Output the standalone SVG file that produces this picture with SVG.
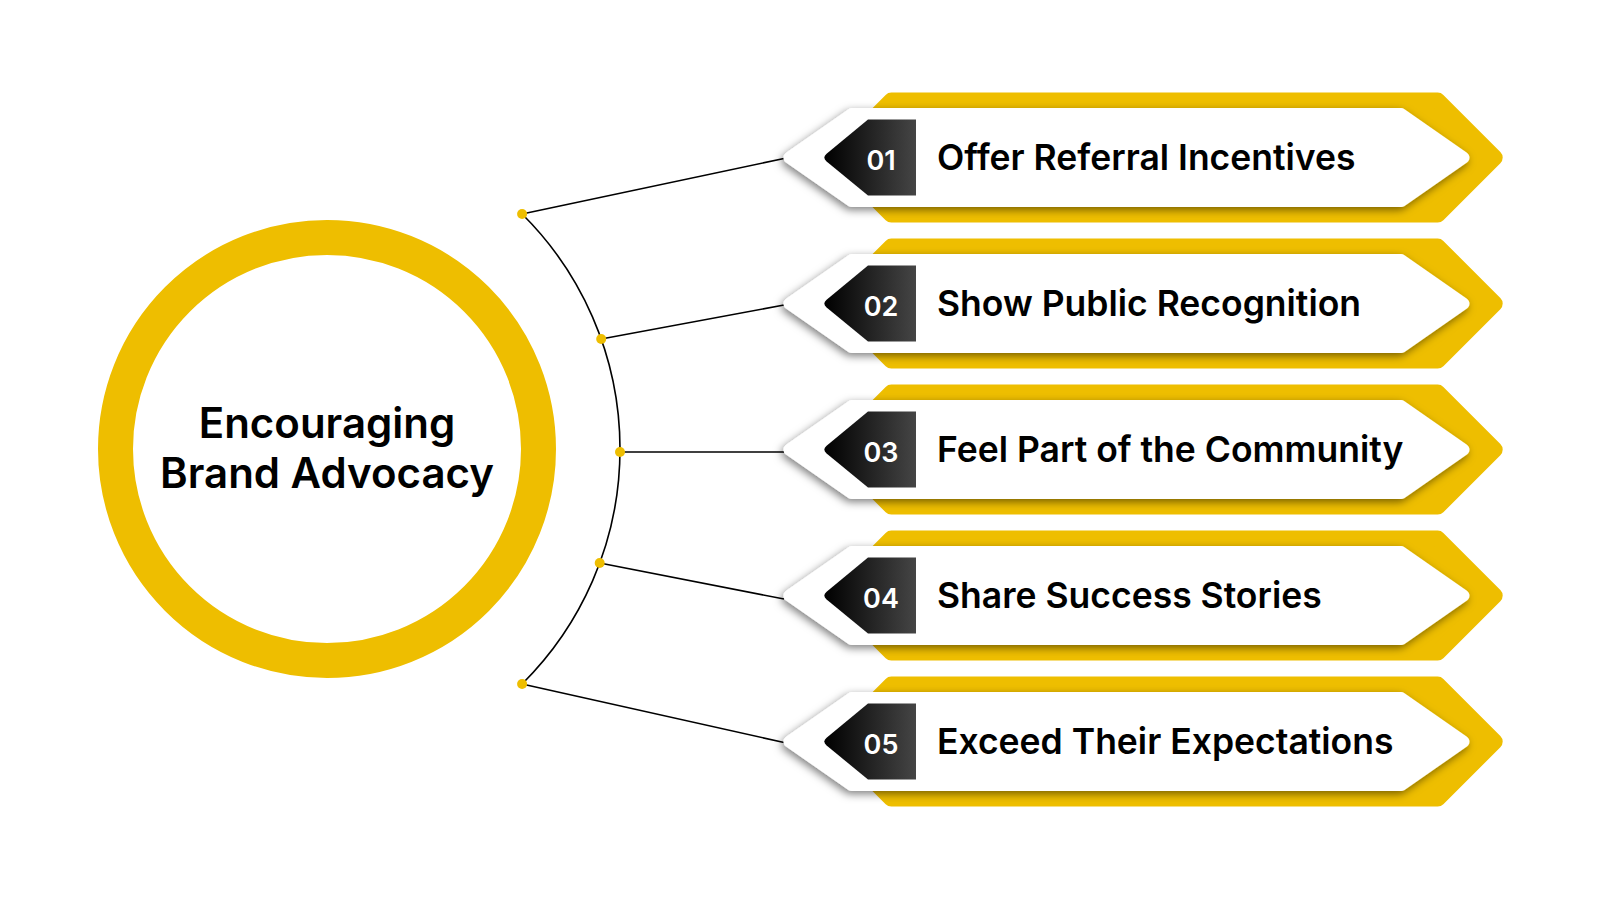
<svg xmlns="http://www.w3.org/2000/svg" width="1600" height="900" viewBox="0 0 1600 900">
  <defs>
    <linearGradient id="tabGrad" x1="0" y1="0" x2="1" y2="0">
      <stop offset="0" stop-color="#000000"/>
      <stop offset="1" stop-color="#454545"/>
    </linearGradient>
    <filter id="shadow" x="-5%" y="-30%" width="110%" height="160%">
      <feDropShadow dx="-2" dy="3" stdDeviation="4" flood-color="#000" flood-opacity="0.5"/>
    </filter>
    <style>
      .gold { fill: #EEBE00; stroke: #EEBE00; stroke-width: 16; stroke-linejoin: round; }
      .card { fill: #FFFFFF; stroke: #FFFFFF; stroke-width: 12; stroke-linejoin: round; filter: url(#shadow); }
      .tab { fill: url(#tabGrad); }
      .num { font-family: Inter, "Liberation Sans", sans-serif; font-weight: 600; font-size: 27px; fill: #FFFFFF; text-anchor: middle; }
      .label { font-family: Inter, "Liberation Sans", sans-serif; font-weight: 600; font-size: 35.5px; fill: #000000; }
      .title { font-family: Inter, "Liberation Sans", sans-serif; font-weight: 600; font-size: 42px; fill: #000000; text-anchor: middle; }
      .conn { fill: none; stroke: #000000; stroke-width: 1.6; }
      .dot { fill: #EEBE00; }
    </style>
    <g id="banner">
      <polygon class="gold" points="891.3,-57 1437.7,-57 1494.7,0 1437.7,57 891.3,57 834.3,0"/>
      <polygon class="card" points="851.9,-43.5 1401.1,-43.5 1463.5,0 1401.1,43.5 851.9,43.5 789.5,0"/>
      <path class="tab" d="M916,-38 H868 L826.6,-3.8 Q822,0 826.6,3.8 L868,38 H916 Z"/>
    </g>
  </defs>

  <g id="center">
    <circle cx="327" cy="449" r="211.5" fill="#FFFFFF" stroke="#EEBE00" stroke-width="35"/>
    <text class="title" x="327" y="438">Encouraging</text>
    <text class="title" x="327" y="488">Brand Advocacy</text>
  </g>

  <g id="connectors">
    <path class="conn" d="M522.1,214 A331,331 0 0,1 522.1,684"/>
    <line class="conn" x1="522.1" y1="214" x2="784" y2="158.5"/>
    <line class="conn" x1="601.2" y1="339" x2="784" y2="305"/>
    <line class="conn" x1="620" y1="452" x2="784" y2="452"/>
    <line class="conn" x1="599.7" y1="563" x2="784" y2="599"/>
    <line class="conn" x1="522.1" y1="684" x2="784" y2="742.5"/>
    <circle class="dot" cx="522.1" cy="214" r="5"/>
    <circle class="dot" cx="601.2" cy="339" r="5"/>
    <circle class="dot" cx="620" cy="452" r="5"/>
    <circle class="dot" cx="599.7" cy="563" r="5"/>
    <circle class="dot" cx="522.1" cy="684" r="5"/>
  </g>

  <g id="item1" transform="translate(0,157.6)">
    <use href="#banner"/>
    <text class="num" x="881" y="12">01</text>
    <text class="label" x="937" y="12.5">Offer Referral Incentives</text>
  </g>
  <g id="item2" transform="translate(0,303.6)">
    <use href="#banner"/>
    <text class="num" x="881" y="12">02</text>
    <text class="label" x="937" y="12.5">Show Public Recognition</text>
  </g>
  <g id="item3" transform="translate(0,449.6)">
    <use href="#banner"/>
    <text class="num" x="881" y="12">03</text>
    <text class="label" x="937" y="12.5">Feel Part of the Community</text>
  </g>
  <g id="item4" transform="translate(0,595.6)">
    <use href="#banner"/>
    <text class="num" x="881" y="12">04</text>
    <text class="label" x="937" y="12.5">Share Success Stories</text>
  </g>
  <g id="item5" transform="translate(0,741.6)">
    <use href="#banner"/>
    <text class="num" x="881" y="12">05</text>
    <text class="label" x="937" y="12.5">Exceed Their Expectations</text>
  </g>
</svg>
